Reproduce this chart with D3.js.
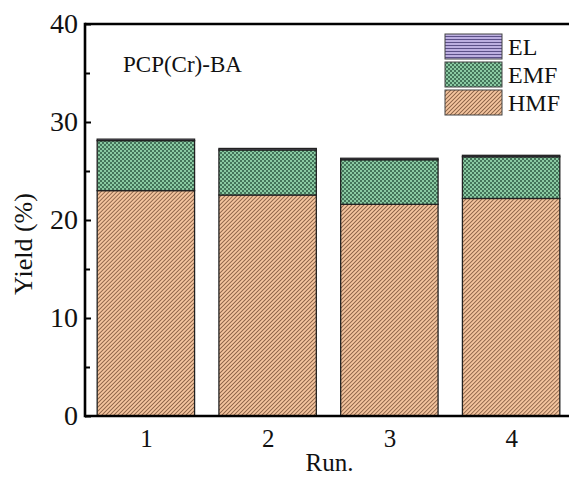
<!DOCTYPE html>
<html><head><meta charset="utf-8">
<script src="https://cdn.jsdelivr.net/npm/d3@7"></script>
<style>body{margin:0;background:#fff}svg{display:block}</style>
</head><body>
<script>
const runs = ["1","2","3","4"];
const seriesNames = ["HMF","EMF","EL"];
const hmf = [23.0, 22.55, 21.6, 22.2];
const emf = [5.1, 4.6, 4.55, 4.25];
const el = [0.15, 0.15, 0.15, 0.15];
const yTicks = [0,10,20,30,40];
const yMinorTicks = [5,15,25,35];
const titleText = "PCP(Cr)-BA";

const W = 569, H = 479;
const m = {left:85, top:24, right:-3, bottom:63};
const FONT = "'Liberation Serif', 'Times New Roman', serif";
const svg = d3.select("body").append("svg").attr("width",W).attr("height",H);
const defs = svg.append("defs");

// patterns
const ph = 2.83;
const pH = defs.append("pattern").attr("id","pHMF").attr("patternUnits","userSpaceOnUse")
  .attr("width",ph).attr("height",ph).attr("patternTransform","rotate(45)");
pH.append("rect").attr("width",ph).attr("height",ph).attr("fill","#f6c6a0");
pH.append("line").attr("x1",0.5).attr("y1",0).attr("x2",0.5).attr("y2",ph).attr("stroke","#8a6246").attr("stroke-width",0.9);

const pE = defs.append("pattern").attr("id","pEMF").attr("patternUnits","userSpaceOnUse")
  .attr("width",4).attr("height",4);
pE.append("rect").attr("width",4).attr("height",4).attr("fill","#8acaa2");
pE.append("rect").attr("x",0).attr("y",0).attr("width",2).attr("height",2).attr("fill","#44745a");
pE.append("rect").attr("x",2).attr("y",2).attr("width",2).attr("height",2).attr("fill","#44745a");

const pL = defs.append("pattern").attr("id","pEL").attr("patternUnits","userSpaceOnUse")
  .attr("width",4).attr("height",3);
pL.append("rect").attr("width",4).attr("height",3).attr("fill","#bcaee0");
pL.append("line").attr("x1",0).attr("y1",0.5).attr("x2",4).attr("y2",0.5).attr("stroke","#5c5088").attr("stroke-width",1);

const fills = {HMF:"url(#pHMF)", EMF:"url(#pEMF)", EL:"url(#pEL)"};

const x = d3.scaleLinear().domain([0.5,4.5]).range([m.left, W - m.right]);
const y = d3.scaleLinear().domain([0,40]).range([H - m.bottom, m.top]);

const data = runs.map((r,i)=>({run:r, HMF:hmf[i], EMF:emf[i], EL:el[i]}));
const stacked = d3.stack().keys(seriesNames)(data);
const bw = x(1.4)-x(1.0);

const g = svg.append("g");
stacked.forEach(s=>{
  g.selectAll(null).data(s).enter().append("rect")
    .attr("x",(d,i)=>x(i+1)-bw)
    .attr("width",bw*2)
    .attr("y",d=>y(d[1]))
    .attr("height",d=>y(d[0])-y(d[1]))
    .attr("fill",fills[s.key])
    .attr("stroke","#222").attr("stroke-width",1.3);
});

// axes
const x0 = m.left, yb = y(0), yt = y(40);
svg.append("line").attr("x1",x0).attr("x2",W+5).attr("y1",yb).attr("y2",yb).attr("stroke","#000").attr("stroke-width",2.6);
svg.append("line").attr("x1",x0).attr("x2",W+5).attr("y1",yt).attr("y2",yt).attr("stroke","#000").attr("stroke-width",2.4);
svg.append("line").attr("x1",x0).attr("x2",x0).attr("y1",yt-1.2).attr("y2",yb+1.3).attr("stroke","#000").attr("stroke-width",2.6);

const yAxis = d3.axisLeft(y).tickValues(yTicks).tickSize(-6).tickPadding(10).tickFormat(d3.format("d"));
const ya = svg.append("g").attr("transform",`translate(${x0},0)`).call(yAxis);
ya.select(".domain").remove();
ya.selectAll(".tick line").attr("stroke","#000").attr("stroke-width",2);
ya.selectAll(".tick text").attr("font-family",FONT).attr("font-size",28).attr("fill","#111").attr("x",-7);
const yMinor = d3.axisLeft(y).tickValues(yMinorTicks).tickSize(-5).tickFormat("");
const ym = svg.append("g").attr("transform",`translate(${x0},0)`).call(yMinor);
ym.select(".domain").remove();
ym.selectAll(".tick line").attr("stroke","#000").attr("stroke-width",2);

const xAxis = d3.axisBottom(x).tickValues([1,2,3,4]).tickSize(0).tickPadding(13).tickFormat((d,i)=>runs[i]);
const xa = svg.append("g").attr("transform",`translate(0,${yb})`).call(xAxis);
xa.select(".domain").remove();
xa.selectAll(".tick text").attr("font-family",FONT).attr("font-size",25).attr("fill","#111");

svg.append("text").attr("x",(x(1)+x(4))/2 + 1).attr("y",471).attr("text-anchor","middle")
  .attr("font-family",FONT).attr("font-size",25).attr("fill","#111").text("Run.");
svg.append("text").attr("transform","translate(32,244) rotate(-90)").attr("text-anchor","middle")
  .attr("font-family",FONT).attr("font-size",26).attr("fill","#111").text("Yield (%)");

svg.append("text").attr("x",123).attr("y",72)
  .attr("font-family",FONT).attr("font-size",23).attr("fill","#111").text(titleText);

// legend
const legOrder = ["EL","EMF","HMF"];
const lg = svg.append("g");
legOrder.forEach((k,i)=>{
  const yy = 34 + i*28;
  lg.append("rect").attr("x",445).attr("y",yy).attr("width",57).attr("height",25)
    .attr("fill",fills[k]).attr("stroke","#444").attr("stroke-width",1);
  lg.append("text").attr("x",508).attr("y",yy+21)
    .attr("font-family",FONT).attr("font-size",24).attr("fill","#111").text(k);
});
</script>
</body></html>
